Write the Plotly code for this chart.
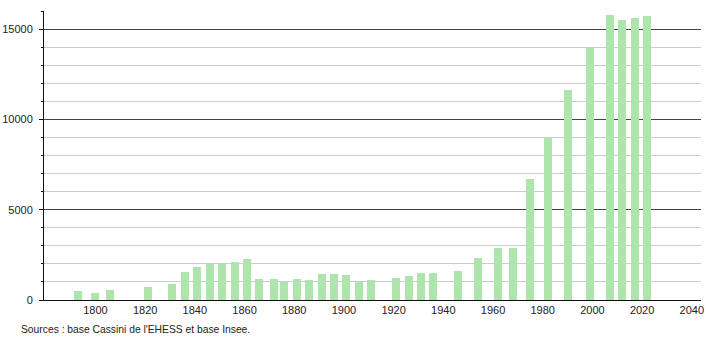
import plotly.graph_objects as go

years = [1793, 1800, 1806, 1821, 1831, 1836, 1841, 1846, 1851, 1856, 1861, 1866,
         1872, 1876, 1881, 1886, 1891, 1896, 1901, 1906, 1911, 1921, 1926, 1931,
         1936, 1946, 1954, 1962, 1968, 1975, 1982, 1990, 1999, 2007, 2012, 2017, 2022]
population = [515, 405, 570, 720, 900, 1535, 1845, 1995, 1995, 2120, 2250, 1165,
              1165, 1000, 1165, 1110, 1460, 1460, 1385, 1000, 1110, 1235, 1345, 1515,
              1515, 1625, 2345, 2865, 2865, 6700, 9020, 11620, 13960, 15790, 15510, 15640, 15720]
x_ticks = [1800, 1820, 1840, 1860, 1880, 1900, 1920, 1940, 1960, 1980, 2000, 2020, 2040]
y_ticks = [0, 5000, 10000, 15000]
source_text = "Sources : base Cassini de l'EHESS et base Insee."

fig = go.Figure()
fig.add_trace(go.Bar(
    x=years, y=population, width=3.2,
    marker=dict(color="#ade5ad", line=dict(width=0)),
    hoverinfo="x+y",
))

fig.update_layout(
    width=710, height=340,
    margin=dict(l=44, r=9, t=11, b=40, autoexpand=False),
    paper_bgcolor="white", plot_bgcolor="white",
    font=dict(family="Liberation Sans, Arial, sans-serif", size=11, color="#222"),
    showlegend=False,
    bargap=0,
    xaxis=dict(
        range=[1779.3, 2043.7],
        tickmode="array", tickvals=x_ticks, ticktext=[str(t) for t in x_ticks],
        showgrid=False, zeroline=False, automargin=False,
        showline=True, linecolor="#111", linewidth=1,
        ticks="", ticklabelstandoff=0,
    ),
    yaxis=dict(
        range=[0, 16000],
        tickmode="array", tickvals=y_ticks, ticktext=[str(t) for t in y_ticks],
        showgrid=True, gridcolor="#444", gridwidth=1,
        zeroline=False, automargin=False,
        showline=True, linecolor="#111", linewidth=1,
        ticks="outside", ticklen=4, tickcolor="#111",
        ticklabelstandoff=4,
        minor=dict(dtick=1000, tick0=0, showgrid=True, gridcolor="#cccccc",
                   ticks="outside", ticklen=2, tickcolor="#111"),
    ),
    annotations=[dict(
        text=source_text, xref="paper", yref="paper",
        x=-0.0375, y=-0.076, xanchor="left", yanchor="top",
        showarrow=False, font=dict(size=10.3, color="#222"),
    )],
)

fig.write_html("out.html")
